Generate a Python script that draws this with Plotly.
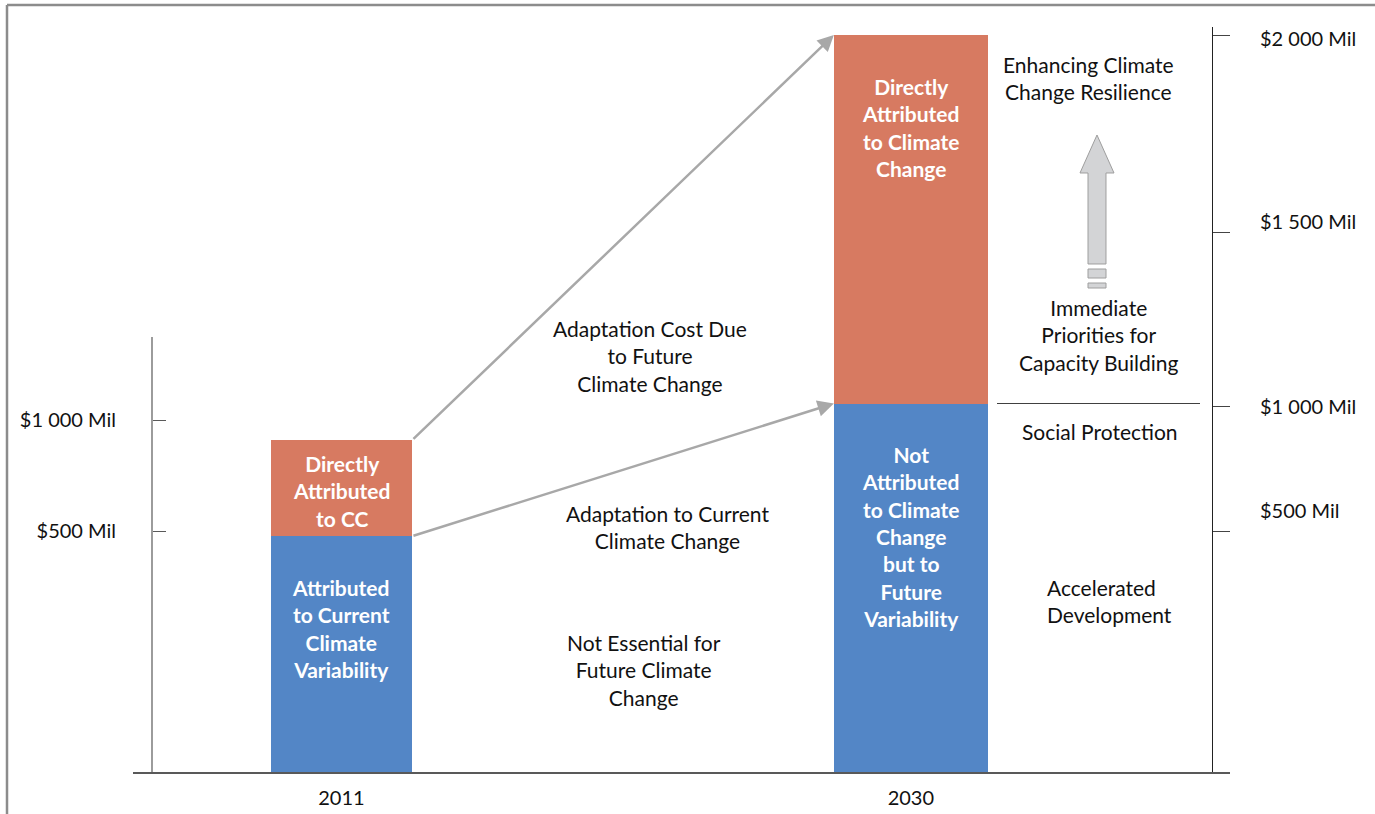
import plotly.graph_objects as go

# ---- data -------------------------------------------------------------
YEARS = ["2011", "2030"]
BASE_COST = [640, 1000]        # blue segment (Mil USD)
CC_COST = [260, 1000]          # orange segment (Mil USD)
BAR_WIDTH = [0.2476, 0.2704]

BASE_LABELS = [
    "Attributed<br>to Current<br>Climate<br>Variability",
    "Not<br>Attributed<br>to Climate<br>Change<br>but to<br>Future<br>Variability",
]
CC_LABELS = [
    "Directly<br>Attributed<br>to CC",
    "Directly<br>Attributed<br>to Climate<br>Change",
]

LEFT_TICK_VALS = [654, 955]
LEFT_TICK_TEXT = ["$500 Mil", "$1 000 Mil"]
RIGHT_TICK_VALS = [654, 993, 1465, 2000]
RIGHT_LABEL_VALS = [711, 993, 1495, 1992]
RIGHT_TICK_TEXT = ["$500 Mil", "$1 000 Mil", "$1 500 Mil", "$2 000 Mil"]

# ---- styling ----------------------------------------------------------
BLUE = "#5386C6"
ORANGE = "#D77A61"
GREY_ARROW = "#A8A8A8"
FONT = "Lato"
TXT = 21
TICK = 20
W, H = 1375, 814
ML, MR, MT, MB = 133, 145, 27, 42
PW, PH = W - ML - MR, H - MT - MB
Y_MAX = 2021.7
LEFT_TOP = Y_MAX * (H - MB - 337) / PH   # where the left scale line stops


def paper(x_px, y_px):
    """Convert a page pixel position to paper coordinates."""
    return (x_px - ML) / PW, (H - MB - y_px) / PH


totals = [b + c for b, c in zip(BASE_COST, CC_COST)]

fig = go.Figure()
fig.add_trace(go.Bar(x=[0, 1], y=BASE_COST, width=BAR_WIDTH,
                     marker=dict(color=BLUE, line=dict(width=0)),
                     hoverinfo="skip", showlegend=False))
fig.add_trace(go.Bar(x=[0, 1], y=CC_COST, width=BAR_WIDTH,
                     marker=dict(color=ORANGE, line=dict(width=0)),
                     hoverinfo="skip", showlegend=False))
# carrier for the right-hand scale axis
fig.add_trace(go.Scatter(x=[None], y=[None], yaxis="y2", showlegend=False, hoverinfo="skip"))

annotations = []
white_bold = dict(family=FONT, size=TXT, color="white")
black = dict(family=FONT, size=TXT, color="#111111")

# text inside the bars
annotations.append(dict(x=0, y=BASE_COST[0] + CC_COST[0] / 2, xref="x", yref="y",
                        text="<b>%s</b>" % CC_LABELS[0], showarrow=False,
                        font=white_bold, yanchor="middle", yshift=-3))
annotations.append(dict(x=0, y=BASE_COST[0], xref="x", yref="y",
                        text="<b>%s</b>" % BASE_LABELS[0], showarrow=False,
                        font=white_bold, yanchor="top", yshift=-37))
annotations.append(dict(x=1, y=totals[1], xref="x", yref="y",
                        text="<b>%s</b>" % CC_LABELS[1], showarrow=False,
                        font=white_bold, yanchor="top", yshift=-37))
annotations.append(dict(x=1, y=BASE_COST[1], xref="x", yref="y",
                        text="<b>%s</b>" % BASE_LABELS[1], showarrow=False,
                        font=white_bold, yanchor="top", yshift=-36))

# connectors from 2011 to 2030
for y_from, y_to in [(totals[0], totals[1]), (BASE_COST[0], BASE_COST[1])]:
    annotations.append(dict(x=1 - BAR_WIDTH[1] / 2, y=y_to, xref="x", yref="y",
                            ax=BAR_WIDTH[0] / 2, ay=y_from, axref="x", ayref="y",
                            showarrow=True, arrowhead=2, arrowsize=1.3, arrowwidth=2.5,
                            arrowcolor=GREY_ARROW, standoff=0, startstandoff=0, text=""))

# descriptive captions
captions = [
    ("Adaptation Cost Due<br>to Future<br>Climate Change", 650, 356, "center"),
    ("Adaptation to Current<br>Climate Change", 667, 527, "center"),
    ("Not Essential for<br>Future Climate<br>Change", 644, 670, "center"),
    ("Enhancing Climate<br>Change Resilience", 1088, 78, "center"),
    ("Immediate<br>Priorities for<br>Capacity Building", 1099, 335, "center"),
    ("Social Protection", 1100, 431, "center"),
    ("Accelerated<br>Development", 1109, 601, "left"),
]
for text, xp, yp, al in captions:
    px, py = paper(xp, yp)
    annotations.append(dict(x=px, y=py, xref="paper", yref="paper", text=text,
                            showarrow=False, font=black, align=al,
                            xanchor="center", yanchor="middle"))

# right-hand scale labels
lab_x, _ = paper(1258, 0)
for val, txt in zip(RIGHT_LABEL_VALS, RIGHT_TICK_TEXT):
    annotations.append(dict(x=lab_x, y=val, xref="paper", yref="y", text=txt,
                            showarrow=False, font=dict(family=FONT, size=TICK, color="#111111"),
                            xanchor="left", yanchor="middle"))

shapes = []
# frame edges
fx0, fy0 = paper(7, 5)
fx1, fy1 = paper(1380, 820)
shapes.append(dict(type="line", xref="paper", yref="paper", x0=fx0, y0=fy0, x1=fx1, y1=fy0,
                   line=dict(color="#8C8C8C", width=2.5)))
shapes.append(dict(type="line", xref="paper", yref="paper", x0=fx0, y0=fy0, x1=fx0, y1=fy1,
                   line=dict(color="#8C8C8C", width=2.5)))

left_pos, _ = paper(152, 0)
right_pos, _ = paper(1212, 0)

# left scale line (shorter than the plot height)
shapes.append(dict(type="line", xref="paper", yref="y", x0=left_pos, x1=left_pos,
                   y0=0, y1=LEFT_TOP, line=dict(color="#595959", width=1.2)))

# divider between social protection and capacity building
dx0, _ = paper(997, 0)
dx1, _ = paper(1200, 0)
shapes.append(dict(type="line", xref="paper", yref="y", x0=dx0, x1=dx1,
                   y0=BASE_COST[1], y1=BASE_COST[1], line=dict(color="#404040", width=1.2)))


def block(points):
    xs = []
    for x, y in points:
        px, py = paper(x, y)
        xs.append("%.5f,%.5f" % (px, py))
    return "M" + " L".join(xs) + " Z"


# block arrow pointing upward
arrow_fill = "#D3D4D6"
arrow_line = "#9E9E9E"
shapes.append(dict(type="path", xref="paper", yref="paper",
                   path=block([(1097, 135), (1114, 173), (1106, 173), (1106, 264),
                               (1088, 264), (1088, 173), (1080, 173)]),
                   fillcolor=arrow_fill, line=dict(color=arrow_line, width=1)))
for y0, y1 in [(269, 278), (283, 288)]:
    a, b = paper(1088, y0)
    c, d = paper(1106, y1)
    shapes.append(dict(type="rect", xref="paper", yref="paper", x0=a, y0=b, x1=c, y1=d,
                       fillcolor=arrow_fill, line=dict(color=arrow_line, width=1)))

fig.update_layout(
    width=W, height=H,
    margin=dict(l=ML, r=MR, t=MT, b=MB, autoexpand=False),
    paper_bgcolor="white", plot_bgcolor="white",
    barmode="stack", bargap=0,
    font=dict(family=FONT, size=TXT, color="#111111"),
    xaxis=dict(range=[-0.3661, 1.5605], tickvals=[0, 1], ticktext=YEARS,
               showgrid=False, zeroline=False, showline=True, linecolor="#595959",
               linewidth=1.5, ticks="", ticklabelstandoff=7, automargin=False,
               tickfont=dict(family=FONT, size=TICK, color="#111111"), fixedrange=True),
    yaxis=dict(range=[0, Y_MAX], anchor="free", position=left_pos, side="left",
               showgrid=False, zeroline=False, showline=False,
               tickvals=LEFT_TICK_VALS, ticktext=LEFT_TICK_TEXT, ticks="inside",
               ticklen=13, tickcolor="#595959", tickwidth=1.2, ticklabelstandoff=36,
               automargin=False,
               tickfont=dict(family=FONT, size=TICK, color="#111111"), fixedrange=True),
    yaxis2=dict(range=[0, Y_MAX], overlaying="y", anchor="free", position=right_pos,
                side="right", showgrid=False, zeroline=False, showline=True,
                linecolor="#222222", linewidth=1.2, tickvals=RIGHT_TICK_VALS,
                ticks="outside", ticklen=17, tickcolor="#444444", tickwidth=1.2,
                showticklabels=False, automargin=False, fixedrange=True),
    annotations=annotations,
    shapes=shapes,
)

fig.write_html("out.html", config={"displayModeBar": False})
